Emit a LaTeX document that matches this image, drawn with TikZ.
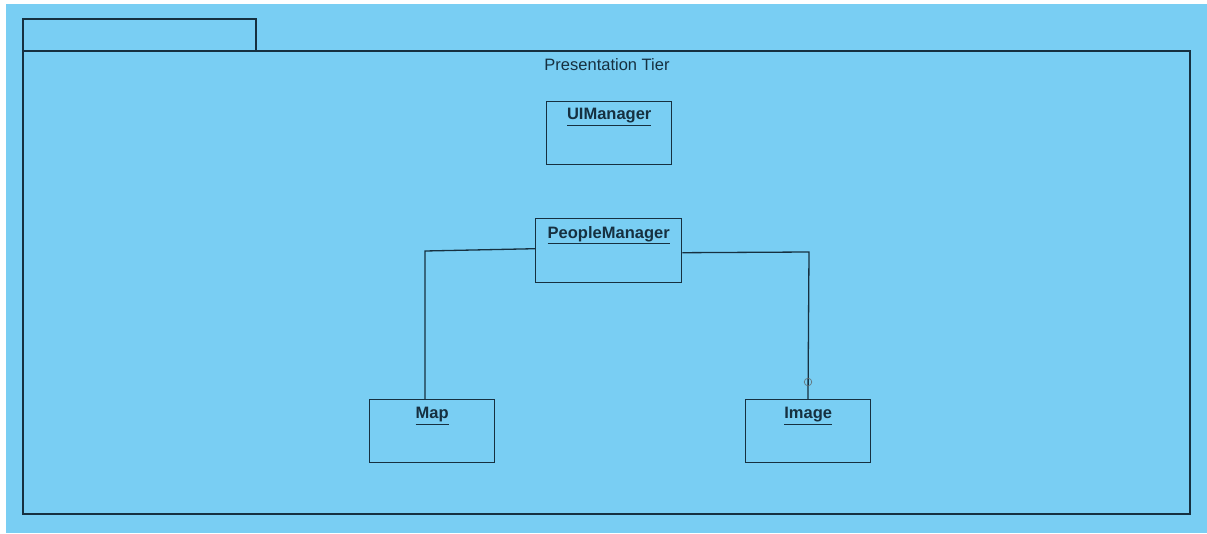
\documentclass[tikz,border=0pt]{standalone}
\usepackage{fontspec}
\setmainfont{Liberation Sans}
\definecolor{bgblue}{RGB}{121,206,243}
\definecolor{linecol}{RGB}{22,48,64}
\newcommand{\clsul}[1]{\underline{#1}}
\begin{document}
\begin{tikzpicture}[x=1pt,y=-1pt,
  frame/.style={draw=linecol,line width=1.4pt},
  cls/.style={draw=linecol,line width=1.4pt,minimum width=125pt,minimum height=63pt,anchor=north west,inner sep=0pt},
  clstext/.style={font=\fontsize{16.5}{18}\selectfont\bfseries,text=linecol},
  conn/.style={draw=linecol,line width=1.3pt}]
\useasboundingbox (0,0) rectangle (1207,533);
\fill[white] (0,0) rectangle (1207,533);
\fill[bgblue] (6,4) rectangle (1207,533);
% package frame
\draw[frame] (23,51) -- (23,19) -- (256,19) -- (256,51);
\draw[frame] (23,51) rectangle (1190,514);
\node[font=\fontsize{16.5}{18}\selectfont,text=linecol] (title) at (607,65) {Presentation Tier};
% classes
\node[cls] (ui) at (546,101) {};
\node[cls,minimum width=146pt,minimum height=64pt] (pm) at (535,218) {};
\node[cls] (map) at (369,399) {};
\node[cls] (img) at (745,399) {};
\node[clstext] at ([yshift=-16pt]ui.north) {\clsul{UIManager}};
\node[clstext] at ([yshift=-17pt]pm.north) {\clsul{PeopleManager}};
\node[clstext] at ([yshift=-17pt]map.north) {\clsul{Map}};
\node[clstext] at ([yshift=-17pt]img.north) {\clsul{Image}};
% connectors
\coordinate (lc) at (425,251);
\coordinate (rc) at (809,252);
\draw[conn] ([yshift=2pt]pm.west) -- (lc) -- (lc |- map.north);
\draw[conn] ([yshift=-2pt]pm.east) -- (rc) -- (808,399);
\draw[gray!70!linecol,line width=0.6pt] (808,382) circle (3.8pt);
\end{tikzpicture}
\end{document}
